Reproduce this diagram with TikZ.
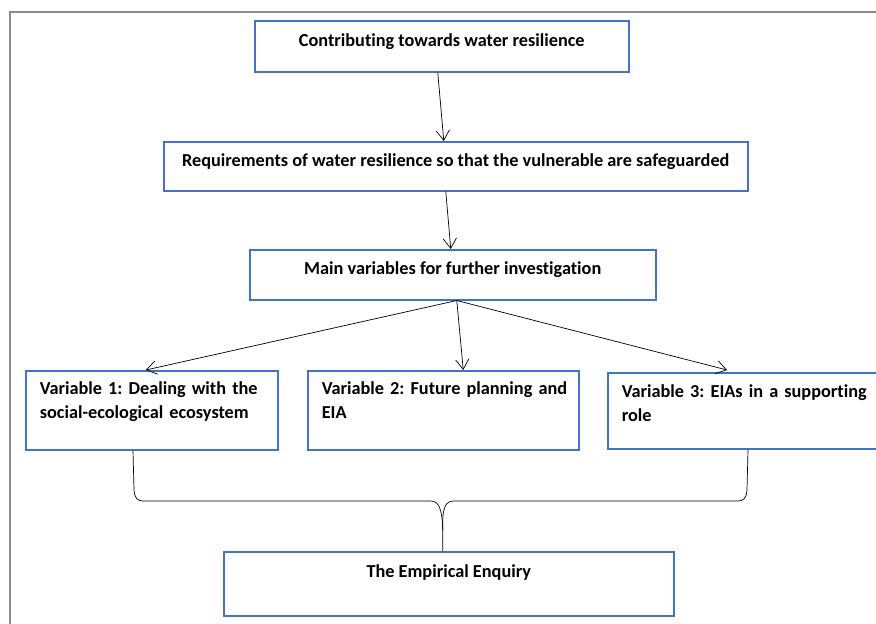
\documentclass[tikz,border=0pt]{standalone}
\usepackage{fontspec}
\setmainfont{Carlito}[Ligatures=NoCommon]
\usetikzlibrary{arrows.meta,calc}
\definecolor{boxblue}{HTML}{4472C4}
\definecolor{framegray}{HTML}{8C8C8C}
\frenchspacing
\begin{document}
\begin{tikzpicture}[x=0.03cm,y=-0.03cm,
every node/.style={anchor=north west,font=\fontsize{15.6pt}{20.5pt}\selectfont\bfseries},
box/.style={draw=boxblue,line width=1.3pt,inner ysep=0pt,text height=0.36cm},
head/.style={box,align=center},
var/.style={box,align=left,inner xsep=0.42cm,minimum height=2.37cm},
arr/.style={-{Straight Barb[length=0.3cm,width=0.4cm]},black,line width=0.6pt},
curly/.style={black,line width=0.6pt},
]
\useasboundingbox (0,0) rectangle (876,624);
%\draw[help lines,step=50](0,0)grid(876,624);
\draw[framegray,line width=1.4pt] (10,626) -- (10,12) -- (878,12);

\node[head,minimum width=11.22cm,minimum height=1.53cm,text depth=0.33cm]
  (goal) at (254,20) {Contributing towards water resilience};
\node[head,minimum width=17.52cm,minimum height=1.47cm,text depth=0.33cm]
  (need) at (163,141) {Requirements of water resilience so that the vulnerable are safeguarded};
\node[head,minimum width=12.18cm,minimum height=1.5cm,text depth=0.36cm]
  (vars) at (249,249) {Main variables for further investigation};

\node[var,text width=6.72cm,minimum width=7.56cm,text depth=1.29cm]
  (var1) at (25,370) {\mbox{Variable 1: Dealing with the}\\social-ecological ecosystem};
\node[var,text width=7.29cm,minimum width=8.13cm,text depth=1.29cm]
  (var2) at (307,370) {\mbox{Variable 2: Future planning and}\\EIA};
\node[var,text width=7.86cm,minimum width=8.7cm,minimum height=2.28cm,text depth=1.14cm]
  (var3) at (607,372) {\mbox{Variable 3: EIAs in a supporting}\\role};

\node[head,minimum width=13.5cm,minimum height=1.92cm,text depth=0.72cm]
  (enquiry) at (223,551) {The Empirical Enquiry};

%arrows
\draw[arr] ($(goal.south)+(-4,0)$) -- ($(need.north)+(-12,0)$);
\draw[arr] ($(need.south)+(-10,0)$) -- ($(vars.north)+(-2,0)$);
\coordinate (fork) at ($(vars.south)+(4,0)$);
\draw[arr] (fork) -- ($(var1.north)+(-6,0)$);
\draw[arr] (fork) -- ($(var2.north)+(20,0)$);
\draw[arr] (fork) -- ($(var3.north west)+(120,-2)$);

%brace
\coordinate (tip) at ($(enquiry.north)+(-6,-21)$);
\draw[curly] ($(var1.south west)+(108,0)$) -- (134,490)
  .. controls (135,499) and (137,501) .. (145,501) -- (430,501)
  .. controls (438,501) and (442,506) .. (tip) -- ($(enquiry.north)+(-6,0)$);
\draw[curly] ($(var3.south west)+(141,0)$) -- (747,490)
  .. controls (746,499) and (744,501) .. (736,501) -- (454,501)
  .. controls (446,501) and (442,506) .. (tip);
\end{tikzpicture}
\end{document}
